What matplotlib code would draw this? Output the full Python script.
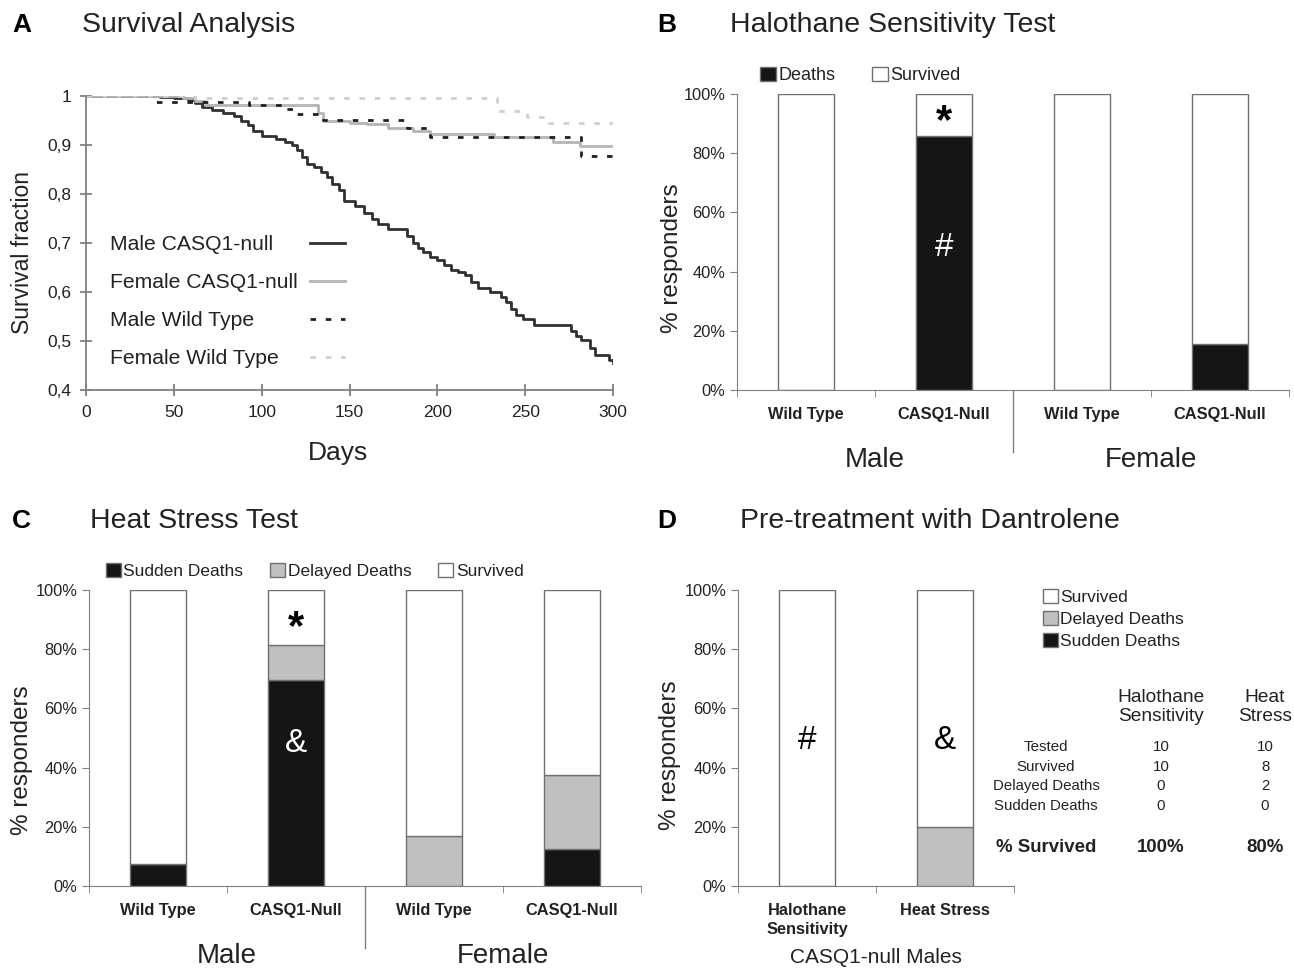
import numpy as np
import matplotlib
matplotlib.use("Agg")
import matplotlib.pyplot as plt
from matplotlib.patches import Patch
from matplotlib.lines import Line2D
from matplotlib.ticker import FuncFormatter

plt.rcParams['font.family'] = ['Liberation Sans', 'DejaVu Sans']

# ---- panel A: survival step curves (day, fraction)
male_null_t = [0, 42, 50, 58, 62, 66, 72, 78, 84, 88, 92, 95, 100, 108, 113, 117, 120, 123, 126, 130,
               134, 137, 140, 144, 147, 153, 158, 163, 166, 172, 183, 186, 189, 192, 196, 200, 204, 208,
               212, 216, 219, 223, 230, 236, 239, 242, 245, 249, 255, 276, 279, 282, 287, 290, 298, 300]
male_null_s = [1.0, 0.998, 0.996, 0.992, 0.985, 0.977, 0.972, 0.966, 0.96, 0.95, 0.94, 0.928, 0.918,
               0.913, 0.907, 0.9, 0.89, 0.875, 0.862, 0.855, 0.845, 0.835, 0.82, 0.808, 0.785, 0.775,
               0.762, 0.75, 0.738, 0.729, 0.715, 0.7, 0.69, 0.682, 0.672, 0.665, 0.655, 0.645, 0.64,
               0.635, 0.62, 0.609, 0.6, 0.59, 0.58, 0.565, 0.553, 0.545, 0.533, 0.52, 0.51, 0.502,
               0.485, 0.471, 0.462, 0.455]
female_null_t = [0, 55, 62, 68, 132, 135, 150, 160, 172, 186, 196, 232, 266, 281, 300]
female_null_s = [1.0, 0.995, 0.99, 0.982, 0.965, 0.948, 0.945, 0.942, 0.935, 0.929, 0.922, 0.917,
                 0.907, 0.898, 0.898]
male_wt_t = [0, 38, 93, 112, 120, 135, 183, 196, 282, 300]
male_wt_s = [1.0, 0.988, 0.982, 0.973, 0.964, 0.952, 0.935, 0.917, 0.878, 0.878]
female_wt_t = [0, 62, 234, 251, 263, 300]
female_wt_s = [1.0, 0.996, 0.97, 0.957, 0.944, 0.944]
series_names = ['Male CASQ1-null', 'Female CASQ1-null', 'Male Wild Type', 'Female Wild Type']

# ---- panel B: halothane (% deaths)
groups4 = ['Wild Type', 'CASQ1-Null', 'Wild Type', 'CASQ1-Null']
halo_deaths = [0, 85.7, 0, 15.4]

# ---- panel C: heat stress (%)
heat_sudden = [7.5, 69.5, 0, 12.5]
heat_delayed = [0, 12, 17, 25]

# ---- panel D: dantrolene pre-treatment (%)
dant_groups = ['Halothane\nSensitivity', 'Heat Stress']
dant_sudden = [0, 0]
dant_delayed = [0, 20]
table_rows = ['Tested', 'Survived', 'Delayed Deaths', 'Sudden Deaths']
table_halo = ['10', '10', '0', '0']
table_heat = ['10', '8', '2', '0']

W, H = 1294, 968
fig = plt.figure(figsize=(W / 100, H / 100), dpi=100)

def rect(x0, y0, x1, y1):
    return [x0 / W, 1 - y1 / H, (x1 - x0) / W, (y1 - y0) / H]

def ftext(x, y, s, **kw):
    fig.text(x / W, 1 - y / H, s, **kw)

GRAY = '#808080'
BLACK = '#151515'
LGRAY = '#c0c0c0'
TXT = '#222222'

# panel headings
for x, y, letter in [(12, 25, 'A'), (657, 25, 'B'), (12, 521, 'C'), (657, 521, 'D')]:
    ftext(x, y, letter, fontsize=19, fontweight='bold', va='center')
for x, y, title in [(82, 25, 'Survival Analysis'), (730, 25, 'Halothane Sensitivity Test'),
                    (90, 521, 'Heat Stress Test'), (740, 521, 'Pre-treatment with Dantrolene')]:
    ftext(x, y, title, fontsize=20.5, va='center', color=TXT)

# ================= A
axA = fig.add_axes(rect(86, 96, 613, 390))
lines = []
lines += axA.step(male_null_t, male_null_s, where='post', color='#303030', lw=2)
lines += axA.step(female_null_t, female_null_s, where='post', color='#b4b4b4', lw=2)
lines += axA.step(male_wt_t, male_wt_s, where='post', color='#202020', lw=2, ls=(0, (2, 3.5)))
lines += axA.step(female_wt_t, female_wt_s, where='post', color='#cfcfcf', lw=2, ls=(0, (2, 3.5)))
axA.set_xlim(0, 300)
axA.set_ylim(0.4, 1.0)
axA.set_xticks(np.arange(0, 301, 50))
axA.set_yticks(np.arange(0.4, 1.01, 0.1))
axA.yaxis.set_major_formatter(FuncFormatter(lambda v, p: '1' if abs(v - 1) < 1e-6 else ('%.1f' % v).replace('.', ',')))
for s in ['top', 'right']:
    axA.spines[s].set_visible(False)
for s in ['left', 'bottom']:
    axA.spines[s].set_color(GRAY)
    axA.spines[s].set_linewidth(1.3)
axA.tick_params(direction='inout', length=9, width=1.3, color=GRAY, labelsize=12.5, labelcolor=TXT, pad=6)
axA.set_xlabel('Days', fontsize=19, color=TXT)
axA.xaxis.set_label_coords(0.478, -0.214)
axA.xaxis.label.set_va('center')
axA.set_ylabel('Survival fraction', fontsize=16.5, color=TXT)
axA.yaxis.set_label_coords(-0.121, 0.466)
axA.yaxis.label.set_va('center')

# legend: left-aligned names, keys in a column to the right
leg_kw = dict(loc='upper left', frameon=False, fontsize=15.2, labelspacing=0.9, borderpad=0, borderaxespad=0)
blank = [Line2D([], [], lw=0) for _ in series_names]
leg_names = axA.legend(blank, series_names, bbox_to_anchor=(0.0455, 0.527), handlelength=0,
                       handletextpad=0, labelcolor=TXT, **leg_kw)
axA.add_artist(leg_names)
axA.legend(lines, [''] * 4, bbox_to_anchor=(0.425, 0.527), handlelength=1.68, handletextpad=0, **leg_kw)

def excel_axes(ax, ncat, xlabels, lab_xy):
    x = np.arange(ncat)
    ax.set_xlim(-0.5, ncat - 0.5)
    ax.set_ylim(0, 100)
    ax.set_yticks(np.arange(0, 101, 20))
    ax.yaxis.set_major_formatter(FuncFormatter(lambda v, p: '%d%%' % v))
    ax.set_xticks(x)
    ax.set_xticklabels(xlabels, fontweight='bold', fontsize=11.8, color=TXT, linespacing=1.35)
    ax.set_xticks(np.arange(-0.5, ncat, 1.0), minor=True)
    ax.tick_params(axis='x', which='major', length=0, pad=12)
    ax.tick_params(axis='x', which='minor', length=5, color=GRAY, direction='out')
    ax.tick_params(axis='y', length=5, color=GRAY, direction='out', labelsize=11.8, labelcolor=TXT)
    for s in ['top', 'right']:
        ax.spines[s].set_visible(False)
    for s in ['left', 'bottom']:
        ax.spines[s].set_color(GRAY)
    ax.set_ylabel('% responders', fontsize=17.5, color=TXT)
    ax.yaxis.set_label_coords(*lab_xy)
    ax.yaxis.label.set_va('center')
    return x

def sex_groups(ax):
    ax.axvline(1.5, ymin=-0.21, ymax=0, color=GRAY, lw=1, clip_on=False)
    tr = ax.get_xaxis_transform()
    ax.text(0.5, -0.235, 'Male', transform=tr, ha='center', va='center', fontsize=20, color=TXT)
    ax.text(2.5, -0.235, 'Female', transform=tr, ha='center', va='center', fontsize=20, color=TXT)

EDGE = '#707070'
BW = 0.4
box_kw = dict(frameon=False, handlelength=0.85, handleheight=0.85, handletextpad=0.15, borderpad=0,
              borderaxespad=0, labelcolor=TXT)

# ================= B
axB = fig.add_axes(rect(737, 94, 1289, 390))
xb = excel_axes(axB, 4, groups4, (-0.118, 0.446))
surv_b = [100 - d for d in halo_deaths]
axB.bar(xb, halo_deaths, BW, color=BLACK, edgecolor=EDGE, lw=1)
axB.bar(xb, surv_b, BW, bottom=halo_deaths, color='white', edgecolor=EDGE, lw=1)
axB.text(1, 90.5, '*', ha='center', va='center', fontsize=30, fontweight='bold')
axB.text(1, 48, '#', ha='center', va='center', fontsize=24, color='white')
sex_groups(axB)
axB.legend(handles=[Patch(fc=BLACK, ec=EDGE, label='Deaths'), Patch(fc='white', ec=EDGE, label='Survived')],
           loc='center left', bbox_to_anchor=(0.042, 1.062), ncol=2, fontsize=13, columnspacing=2.05, **box_kw)

# ================= C
axC = fig.add_axes(rect(89, 590, 641, 886))
xc = excel_axes(axC, 4, groups4, (-0.121, 0.426))
base_c = [a + b for a, b in zip(heat_sudden, heat_delayed)]
surv_c = [100 - v for v in base_c]
axC.bar(xc, heat_sudden, BW, color=BLACK, edgecolor=EDGE, lw=1)
axC.bar(xc, heat_delayed, BW, bottom=heat_sudden, color=LGRAY, edgecolor=EDGE, lw=1)
axC.bar(xc, surv_c, BW, bottom=base_c, color='white', edgecolor=EDGE, lw=1)
axC.text(1, 87, '*', ha='center', va='center', fontsize=30, fontweight='bold')
axC.text(1, 48, '&', ha='center', va='center', fontsize=24, color='white')
sex_groups(axC)
axC.legend(handles=[Patch(fc=BLACK, ec=EDGE, label='Sudden Deaths'),
                    Patch(fc=LGRAY, ec=EDGE, label='Delayed Deaths'),
                    Patch(fc='white', ec=EDGE, label='Survived')],
           loc='center left', bbox_to_anchor=(0.031, 1.064), ncol=3, fontsize=12.5, columnspacing=1.55,
           **box_kw)

# ================= D
axD = fig.add_axes(rect(738, 590, 1014, 886))
xd = excel_axes(axD, 2, dant_groups, (-0.246, 0.443))
base_d = [a + b for a, b in zip(dant_sudden, dant_delayed)]
surv_d = [100 - v for v in base_d]
axD.bar(xd, dant_sudden, BW, color=BLACK, edgecolor=EDGE, lw=1)
axD.bar(xd, dant_delayed, BW, bottom=dant_sudden, color=LGRAY, edgecolor=EDGE, lw=1)
axD.bar(xd, surv_d, BW, bottom=base_d, color='white', edgecolor=EDGE, lw=1)
axD.text(0, 49, '#', ha='center', va='center', fontsize=24)
axD.text(1, 49, '&', ha='center', va='center', fontsize=24)
axD.text(0.5, -0.24, 'CASQ1-null Males', transform=axD.get_xaxis_transform(), ha='center', va='center',
         fontsize=15, color=TXT)
axD.legend(handles=[Patch(fc='white', ec=EDGE, label='Survived'),
                    Patch(fc=LGRAY, ec=EDGE, label='Delayed Deaths'),
                    Patch(fc=BLACK, ec=EDGE, label='Sudden Deaths')],
           loc='center left', bbox_to_anchor=(1.105, 0.902), fontsize=12.5, labelspacing=0.37, **box_kw)

# table beside panel D
ftext(1161, 707, 'Halothane\nSensitivity', ha='center', va='center', fontsize=13.8, color=TXT, linespacing=1.15)
ftext(1265, 707, 'Heat\nStress', ha='center', va='center', fontsize=13.8, color=TXT, linespacing=1.15)
for i, (r, a, b) in enumerate(zip(table_rows, table_halo, table_heat)):
    y = 747 + i * 19.7
    ftext(1046, y, r, ha='center', va='center', fontsize=10.8, color=TXT)
    ftext(1161, y, a, ha='center', va='center', fontsize=10.8, color=TXT)
    ftext(1265, y, b, ha='center', va='center', fontsize=10.8, color=TXT)
ftext(1046, 848, '% Survived', ha='center', va='center', fontsize=13.4, fontweight='bold', color=TXT)
ftext(1161, 848, '100%', ha='center', va='center', fontsize=13.4, fontweight='bold', color=TXT)
ftext(1265, 848, '80%', ha='center', va='center', fontsize=13.4, fontweight='bold', color=TXT)

fig.savefig('out.png', dpi=100)
